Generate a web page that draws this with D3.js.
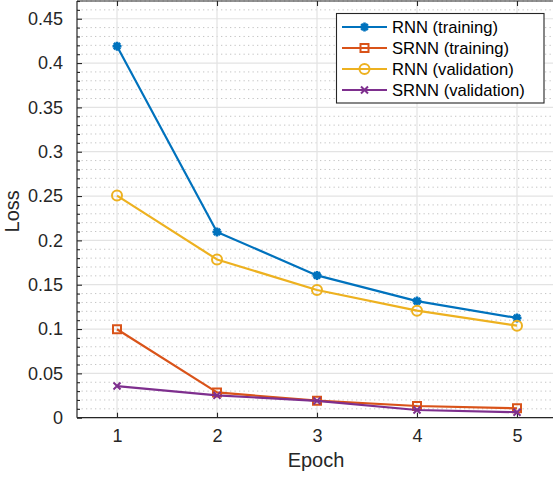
<!DOCTYPE html>
<html><head><meta charset="utf-8">
<script src="https://cdn.jsdelivr.net/npm/d3@7"></script>
<style>html,body{margin:0;padding:0;background:#fff;}svg{display:block;font-family:"Liberation Sans",Arial,Helvetica,sans-serif;}</style>
</head><body><svg id="c" width="553" height="477"></svg>
<script>
const epochs = [1, 2, 3, 4, 5];
const rnnTrain = [0.419, 0.2095, 0.1605, 0.1315, 0.1125];
const srnnTrain = [0.0998, 0.0285, 0.0192, 0.0132, 0.0106];
const rnnVal = [0.2505, 0.1785, 0.1440, 0.1207, 0.1038];
const srnnVal = [0.0357, 0.0252, 0.0190, 0.0087, 0.0062];
const seriesNames = ["RNN (training)", "SRNN (training)", "RNN (validation)", "SRNN (validation)"];
const seriesColors = ["#0072BD", "#D95319", "#EDB120", "#7E2F8E"];
const seriesMarkers = ["asterisk", "square", "circle", "cross"];
const yTicks = [0, 0.05, 0.1, 0.15, 0.2, 0.25, 0.3, 0.35, 0.4, 0.45];
const xTicks = [1, 2, 3, 4, 5];

const seriesValues = [rnnTrain, srnnTrain, rnnVal, srnnVal];
const svg = d3.select("#c");
const L = 77, T = 1, R = 557, B = 417.7;
const x = d3.scaleLinear().domain([0.6, 5.4]).range([L, R]);
const y = d3.scaleLinear().domain([0, 0.47]).range([B, T]);
const axisCol = "#262626";

// minor grid
const minor = d3.range(0, 0.4701, 0.01).filter(v => Math.abs(v / 0.05 - Math.round(v / 0.05)) > 1e-6);
const g = svg.append("g");
g.selectAll("line.mg").data(minor).join("line")
  .attr("x1", L).attr("x2", R).attr("y1", d => y(d)).attr("y2", d => y(d))
  .attr("stroke", "#c4c4c4").attr("stroke-width", 1).attr("stroke-dasharray", "1.3,3.2");
// major grid
g.selectAll("line.hy").data(yTicks).join("line")
  .attr("x1", L).attr("x2", R).attr("y1", d => y(d)).attr("y2", d => y(d))
  .attr("stroke", "#e3e3e3").attr("stroke-width", 1.2);
g.selectAll("line.vx").data(xTicks).join("line")
  .attr("x1", d => x(d)).attr("x2", d => x(d)).attr("y1", T).attr("y2", B)
  .attr("stroke", "#e3e3e3").attr("stroke-width", 1.2);

// axes
const yAxis = d3.axisLeft(y).tickValues(yTicks).tickSize(-5).tickPadding(14).tickFormat(d => d3.format("~g")(d));
const ya = svg.append("g").attr("transform", `translate(${L},0)`).call(yAxis);
const yMinor = d3.axisLeft(y).tickValues(minor).tickSize(-3).tickFormat("");
const yb = svg.append("g").attr("transform", `translate(${L},0)`).call(yMinor);
const xAxis = d3.axisBottom(x).tickValues(xTicks).tickSize(-5).tickPadding(12).tickFormat(d3.format("d"));
const xa = svg.append("g").attr("transform", `translate(0,${B})`).call(xAxis);
const xTop = d3.axisTop(x).tickValues(xTicks).tickSize(-5).tickFormat("");
const xt = svg.append("g").attr("transform", `translate(0,${T})`).call(xTop);
[ya, yb, xa, xt].forEach(a => {
  a.select(".domain").remove();
  a.selectAll(".tick line").attr("stroke", axisCol).attr("stroke-width", 1.1);
  a.selectAll(".tick text").attr("fill", axisCol).attr("font-size", 18).attr("font-family", "Liberation Sans, Arial, sans-serif");
});
svg.append("line").attr("x1", L).attr("x2", L).attr("y1", T).attr("y2", B).attr("stroke", axisCol).attr("stroke-width", 1.2);
svg.append("line").attr("x1", L).attr("x2", R).attr("y1", B).attr("y2", B).attr("stroke", axisCol).attr("stroke-width", 1.2);
svg.append("line").attr("x1", L).attr("x2", R).attr("y1", T).attr("y2", T).attr("stroke", axisCol).attr("stroke-width", 1.2);

// labels
svg.append("text").attr("x", (L + R) / 2 - 1).attr("y", 467).attr("text-anchor", "middle")
  .attr("font-size", 20).attr("fill", axisCol).text("Epoch");
svg.append("text").attr("transform", `translate(18.5,${(T + B) / 2 + 2}) rotate(-90)`).attr("text-anchor", "middle")
  .attr("font-size", 20).attr("fill", axisCol).text("Loss");

function markerPath(type) {
  if (type === "asterisk") { const r = 4.5, d = r * 0.7071; return `M${-r},0H${r}M0,${-r}V${r}M${-d},${-d}L${d},${d}M${-d},${d}L${d},${-d}`; }
  if (type === "square") { const r = 4; return `M${-r},${-r}H${r}V${r}H${-r}Z`; }
  if (type === "circle") { const r = 5; return `M${r},0A${r},${r} 0 1,1 ${-r},0A${r},${r} 0 1,1 ${r},0Z`; }
  const r = 3.5; return `M${-r},${-r}L${r},${r}M${-r},${r}L${r},${-r}`;
}

const line = d3.line().x(d => x(d[0])).y(d => y(d[1]));
seriesValues.forEach((vals, i) => {
  const pts = epochs.map((e, j) => [e, vals[j]]);
  const sg = svg.append("g");
  sg.append("path").attr("d", line(pts)).attr("fill", "none").attr("stroke", seriesColors[i]).attr("stroke-width", 2.2).attr("stroke-linejoin", "round");
  sg.selectAll("path.m").data(pts).join("path").attr("class", "m")
    .attr("transform", d => `translate(${x(d[0])},${y(d[1])})`)
    .attr("d", markerPath(seriesMarkers[i]))
    .attr("fill", "none").attr("stroke", seriesColors[i]).attr("stroke-width", seriesMarkers[i] === "asterisk" ? 2.6 : 2);
});

// legend
const lg = svg.append("g");
lg.append("rect").attr("x", 336.5).attr("y", 13.5).attr("width", 207.5).attr("height", 89.5)
  .attr("fill", "#fff").attr("stroke", axisCol).attr("stroke-width", 1.1);
seriesNames.forEach((name, i) => {
  const yy = 27 + i * 21;
  lg.append("line").attr("x1", 342).attr("x2", 387).attr("y1", yy).attr("y2", yy).attr("stroke", seriesColors[i]).attr("stroke-width", 2.2);
  lg.append("path").attr("transform", `translate(364.5,${yy})`).attr("d", markerPath(seriesMarkers[i]))
    .attr("fill", "none").attr("stroke", seriesColors[i]).attr("stroke-width", seriesMarkers[i] === "asterisk" ? 2.6 : 2);
  lg.append("text").attr("x", 392).attr("y", yy + 6).attr("font-size", 16.6).attr("fill", "#000").text(name);
});
</script></body></html>
